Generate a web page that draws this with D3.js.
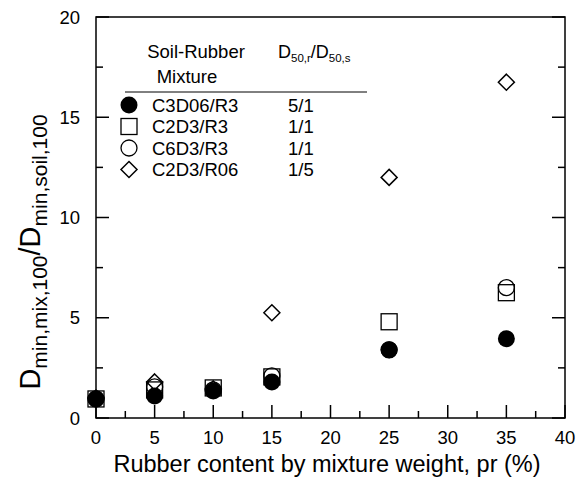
<!DOCTYPE html>
<html><head><meta charset="utf-8">
<script src="https://cdn.jsdelivr.net/npm/d3@7"></script>
<style>body{margin:0;background:#fff}svg text{font-family:"Liberation Sans",Arial,sans-serif;fill:#000}</style>
</head><body>
<svg id="c" width="586" height="479"></svg>
<script>
const xVals = [0, 5, 10, 15, 25, 35];
const seriesNames = ["C3D06/R3", "C2D3/R3", "C6D3/R3", "C2D3/R06"];
const seriesRatios = ["5/1", "1/1", "1/1", "1/5"];
const seriesSymbols = ["filledCircle", "square", "circle", "diamond"];
const filledCircleVals = [0.95, 1.1, 1.35, 1.8, 3.4, 3.95];
const squareVals = [0.95, 1.4, 1.5, 2.05, 4.8, 6.25];
const circleVals = [0.95, 1.55, 1.4, 2.1, 3.4, 6.5];
const diamondVals = [1.0, 1.8, 1.45, 5.25, 12.0, 16.75];
const xTicks = [0, 5, 10, 15, 20, 25, 30, 35, 40];
const yTicks = [0, 5, 10, 15, 20];

const allVals = [filledCircleVals, squareVals, circleVals, diamondVals];
const svg = d3.select("#c");
const L = 96, R = 565, T = 17, B = 418;
const x = d3.scaleLinear().domain([0, 40]).range([L, R]);
const y = d3.scaleLinear().domain([0, 20]).range([B, T]);

// frame
svg.append("rect").attr("x", L).attr("y", T).attr("width", R - L).attr("height", B - T)
  .attr("fill", "none").attr("stroke", "#000").attr("stroke-width", 1.5);

// ticks
const minorX = d3.range(0, 40.01, 2.5), minorY = d3.range(0, 20.01, 2.5);
minorX.forEach(v => {
  const major = v % 5 === 0, len = major ? 13 : 7;
  svg.append("line").attr("x1", x(v)).attr("x2", x(v)).attr("y1", B).attr("y2", B - len)
    .attr("stroke", "#000").attr("stroke-width", 1.5);
});
minorY.forEach(v => {
  const major = v % 5 === 0, len = major ? 13 : 7;
  svg.append("line").attr("x1", L).attr("x2", L + len).attr("y1", y(v)).attr("y2", y(v))
    .attr("stroke", "#000").attr("stroke-width", 1.5);
  svg.append("line").attr("x1", R).attr("x2", R - len).attr("y1", y(v)).attr("y2", y(v))
    .attr("stroke", "#000").attr("stroke-width", 1.5);
});
svg.selectAll(".xt").data(xTicks).join("text").attr("x", d => x(d)).attr("y", 444)
  .attr("text-anchor", "middle").attr("font-size", 18.5).text(d => d);
svg.selectAll(".yt").data(yTicks).join("text").attr("x", 80).attr("y", d => y(d) + 6.5)
  .attr("text-anchor", "end").attr("font-size", 18.5).text(d => d);

// axis titles
svg.append("text").attr("x", 327).attr("y", 472).attr("text-anchor", "middle")
  .attr("font-size", 23.5).text("Rubber content by mixture weight, pr (%)");
const yt = svg.append("text").attr("transform", "translate(40,252) rotate(-90)")
  .attr("text-anchor", "middle").attr("font-size", 29);
yt.append("tspan").text("D");
yt.append("tspan").attr("font-size", 21).attr("dy", 7).text("min,mix,100");
yt.append("tspan").attr("dy", -7).text("/D");
yt.append("tspan").attr("font-size", 21).attr("dy", 7).text("min,soil,100");

// markers
function drawSym(g, sym, cx, cy) {
  if (sym === "filledCircle") g.append("circle").attr("cx", cx).attr("cy", cy).attr("r", 8.5).attr("fill", "#000");
  else if (sym === "circle") g.append("circle").attr("cx", cx).attr("cy", cy).attr("r", 8).attr("fill", "none").attr("stroke", "#000").attr("stroke-width", 1.3);
  else if (sym === "square") g.append("rect").attr("x", cx - 8).attr("y", cy - 8).attr("width", 16).attr("height", 16).attr("fill", "none").attr("stroke", "#000").attr("stroke-width", 1.3);
  else if (sym === "diamond") g.append("path").attr("d", `M${cx},${cy - 8}L${cx + 8},${cy}L${cx},${cy + 8}L${cx - 8},${cy}Z`).attr("fill", "none").attr("stroke", "#000").attr("stroke-width", 1.5);
}
const marks = svg.append("g");
[3, 1, 2, 0].forEach(si => {
  xVals.forEach((xv, i) => drawSym(marks, seriesSymbols[si], x(xv), y(allVals[si][i])));
});

// legend
svg.append("text").attr("x", 196).attr("y", 58).attr("text-anchor", "middle").attr("font-size", 18.5).text("Soil-Rubber");
svg.append("text").attr("x", 187).attr("y", 83).attr("text-anchor", "middle").attr("font-size", 18.5).text("Mixture");
const hd = svg.append("text").attr("x", 278).attr("y", 58).attr("font-size", 18);
hd.append("tspan").text("D");
hd.append("tspan").attr("font-size", 11.5).attr("dy", 4).text("50,r");
hd.append("tspan").attr("dy", -4).text("/D");
hd.append("tspan").attr("font-size", 11.5).attr("dy", 4).text("50,s");
svg.append("line").attr("x1", 125).attr("x2", 367).attr("y1", 92).attr("y2", 92).attr("stroke", "#000").attr("stroke-width", 1);
const lg = svg.append("g");
seriesNames.forEach((n, i) => {
  const yy = 105 + i * 21.5;
  const sg = lg.append("g");
  drawSym(sg, seriesSymbols[i], 129, yy);
  lg.append("text").attr("x", 152).attr("y", yy + 6.5).attr("font-size", 18.5).text(n);
  lg.append("text").attr("x", 288).attr("y", yy + 6.5).attr("font-size", 18.5).text(seriesRatios[i]);
});
</script>
</body></html>
